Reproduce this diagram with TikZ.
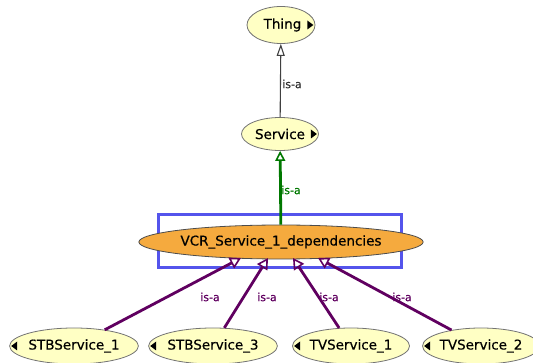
\documentclass[tikz,border=0pt]{standalone}
\usepackage{fontspec}
\setmainfont{DejaVu Sans}
\newfontfamily\classfont{DejaVu Sans}[FakeBold=0.5]
\usetikzlibrary{shapes.geometric,arrows.meta}
\definecolor{classfill}{RGB}{255,255,196}
\definecolor{focusfill}{RGB}{245,170,62}
\definecolor{isagreen}{RGB}{0,120,0}
\definecolor{isapurple}{RGB}{96,0,96}
\definecolor{selblue}{RGB}{84,84,236}
\begin{document}
\begin{tikzpicture}[x=1pt,y=-1pt,
  cls/.style={ellipse,draw=black!55,fill=classfill,line width=0.8pt,inner sep=0pt,
    font=\classfont\fontsize{13.5}{15}\selectfont},
  focus/.style={cls,fill=focusfill,draw=black!70},
  isalabel/.style={font=\classfont\fontsize{11}{12}\selectfont,inner sep=0pt},
  isaplain/.style={draw=black!75,line width=1.1pt,
    -{Triangle[open,length=12pt,width=8pt,line width=1.1pt]}},
  isagreenarrow/.style={draw=isagreen,line width=2.8pt,
    -{Triangle[open,length=10pt,width=10pt,line width=1.6pt]}},
  isapurplearrow/.style={draw=isapurple,line width=2.8pt,
    -{Triangle[open,length=11pt,width=12pt,line width=1.6pt]}},
  tri/.style={fill=black}
]
\useasboundingbox (0,0) rectangle (533,363);
\clip (0,0) rectangle (533,363);

% selection frame around the focused class
\draw[selblue,line width=3pt] (158,215) rectangle (401,268);

% classes
\node[cls,minimum width=68pt,minimum height=37pt] (thing) at (281,25) {\hspace{3pt}Thing};
\node[cls,minimum width=77pt,minimum height=33pt] (service) at (280,134) {Service\hspace{4pt}};
\node[focus,minimum width=232pt,minimum height=34pt] (vcr) at (281,242) {VCR\_Service\_1\_dependencies};
\node[cls,minimum width=122pt,minimum height=36pt] (stb1) at (74,346) {STBService\_1};
\node[cls,minimum width=120pt,minimum height=36pt] (stb3) at (213,346) {STBService\_3};
\node[cls,minimum width=117pt,minimum height=36pt] (tv1) at (351,346) {TVService\_1};
\node[cls,minimum width=113pt,minimum height=36pt] (tv2) at (481,346) {TVService\_2};

% expand markers
\fill[tri] ([xshift=-8pt,yshift=4.5pt]thing.east) -- ++(0,9) -- ++(6,-4.5) -- cycle;
\fill[tri] ([xshift=-8pt,yshift=4.5pt]service.east) -- ++(0,9) -- ++(6,-4.5) -- cycle;
\foreach \n in {stb1,stb3,tv1,tv2}
  \fill[tri] ([xshift=8pt,yshift=4.5pt]\n.west) -- ++(0,9) -- ++(-6,-4.5) -- cycle;

% arrow tips on the focused class
\coordinate (t1) at (241,258);
\coordinate (t2) at (268,258);
\coordinate (t3) at (293,258);
\coordinate (t4) at (318,258);

% is-a links
\draw[isaplain] (service) -- (thing);
\draw[isagreenarrow] (vcr) -- (service);
\draw[isapurplearrow] (stb1) -- (t1);
\draw[isapurplearrow] (stb3) -- (t2);
\draw[isapurplearrow] (tv1) -- (t3);
\draw[isapurplearrow] (tv2) -- (t4);

% link labels
\node[isalabel,text=black!80] (l0) at (292,84) {is-a};
\node[isalabel,text=isagreen] (l1) at (291,190) {is-a};
\node[isalabel,text=isapurple] (l2) at (210,297) {is-a};
\node[isalabel,text=isapurple] (l3) at (267,297) {is-a};
\node[isalabel,text=isapurple] (l4) at (329,297) {is-a};
\node[isalabel,text=isapurple] (l5) at (402,297) {is-a};
\end{tikzpicture}
\end{document}
